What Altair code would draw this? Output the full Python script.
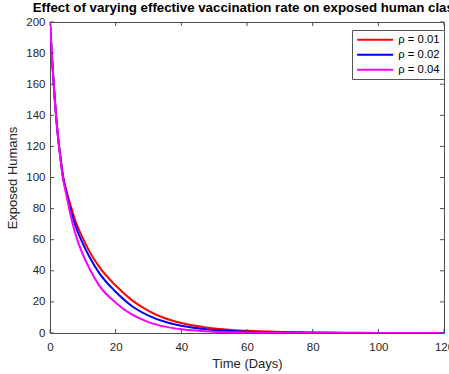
import altair as alt
import pandas as pd

# time points (days)
t = [0, 0.5, 1, 1.5, 2, 2.5, 3, 4, 5, 6, 7, 8, 10, 12, 15, 20, 25, 30, 35, 40,
     50, 60, 70, 80, 90, 100, 110, 120]

e_rho_001 = [200, 181, 164, 149, 136, 125, 116, 100.5, 91.5, 84, 77, 70.5, 61, 52.5,
             42.5, 30.5, 21, 14.3, 9.5, 6.4, 2.9, 1.4, 0.7, 0.35, 0.17, 0.08, 0.04, 0.02]
e_rho_002 = [200, 181, 164, 149, 136, 125, 116, 100, 90.5, 81.5, 74, 67.5, 57.5, 49,
             38.5, 26.5, 17.2, 11.2, 7.2, 4.6, 1.9, 0.8, 0.33, 0.14, 0.06, 0.03, 0.01, 0]
e_rho_004 = [200, 181, 164, 149, 135.5, 124.5, 115, 99, 88.5, 78.5, 69.5, 62, 50.5, 41.5,
             30.5, 19.5, 11.8, 7.0, 4.1, 2.4, 0.8, 0.3, 0.1, 0.04, 0.02, 0.01, 0, 0]

labels = ["ρ = 0.01", "ρ = 0.02", "ρ = 0.04"]
colors = ["#ff0000", "#0000ff", "#ff00ff"]

x_ticks = [0, 20, 40, 60, 80, 100, 120]
y_ticks = [0, 20, 40, 60, 80, 100, 120, 140, 160, 180, 200]

rows = []
for lab, series in zip(labels, [e_rho_001, e_rho_002, e_rho_004]):
    for ti, v in zip(t, series):
        rows.append({"t": ti, "E": v, "s": lab})
df = pd.DataFrame(rows)

W, H = 394, 311
AX = "#4d4d4d"
FONT = "Liberation Sans"

xs = alt.Scale(domain=[0, 120], nice=False)
ys = alt.Scale(domain=[0, 200], nice=False)
common = dict(tickSize=0, grid=False, labelOverlap=False, labelFlush=False,
              titleFontWeight="normal", labelFont=FONT, titleFont=FONT,
              labelFontSize=11.5, titleFontSize=13, labelColor="#262626",
              titleColor="#262626", domainColor=AX)
xaxis = alt.Axis(values=x_ticks, labelPadding=8, titlePadding=5, **common)
yaxis = alt.Axis(values=y_ticks, labelPadding=5, titlePadding=6, **common)
XT = "Time (Days)"
YT = "Exposed Humans"

lines = alt.Chart(df).mark_line(strokeWidth=2, interpolate="monotone", clip=True).encode(
    x=alt.X("t:Q", scale=xs, title=XT, axis=xaxis),
    y=alt.Y("E:Q", scale=ys, title=YT, axis=yaxis),
    color=alt.Color("s:N", scale=alt.Scale(domain=labels, range=colors),
                    legend=alt.Legend(title=None, orient="none", legendX=302, legendY=8,
                                      symbolType="M-1,0L7,0", symbolSize=81,
                                      symbolStrokeWidth=2, labelFontSize=11.3,
                                      labelFont=FONT, labelColor="#000000",
                                      strokeColor="#555555", fillColor="#ffffff",
                                      padding=4, rowPadding=3, labelOffset=31)),
)

dfx = pd.DataFrame({"v": x_ticks})
dfy = pd.DataFrame({"v": y_ticks})
tick_col = AX
tb = alt.Chart(dfx).mark_rule(color=tick_col, strokeWidth=1).encode(
    x=alt.X("v:Q", scale=xs, title=XT, axis=xaxis), y=alt.value(H), y2=alt.value(H - 4))
tt = alt.Chart(dfx).mark_rule(color=tick_col, strokeWidth=1).encode(
    x=alt.X("v:Q", scale=xs, title=XT, axis=xaxis), y=alt.value(0), y2=alt.value(4))
tl = alt.Chart(dfy).mark_rule(color=tick_col, strokeWidth=1).encode(
    y=alt.Y("v:Q", scale=ys, title=YT, axis=yaxis), x=alt.value(0), x2=alt.value(4))
tr = alt.Chart(dfy).mark_rule(color=tick_col, strokeWidth=1).encode(
    y=alt.Y("v:Q", scale=ys, title=YT, axis=yaxis), x=alt.value(W), x2=alt.value(W - 4))

chart = alt.layer(lines, tb, tt, tl, tr).properties(
    width=W, height=H,
    title=alt.TitleParams("Effect of varying effective vaccination rate on exposed human class",
                          fontSize=13.3, font=FONT, fontWeight="bold", color="#000000",
                          anchor="middle", offset=2),
    autosize=alt.AutoSizeParams(type="none"),
    padding={"left": 50, "top": 22, "right": 5, "bottom": 41},
    background="white",
).configure_view(stroke=AX, strokeWidth=1)

chart.save("out.html", embed_options={"renderer": "svg", "actions": False})
